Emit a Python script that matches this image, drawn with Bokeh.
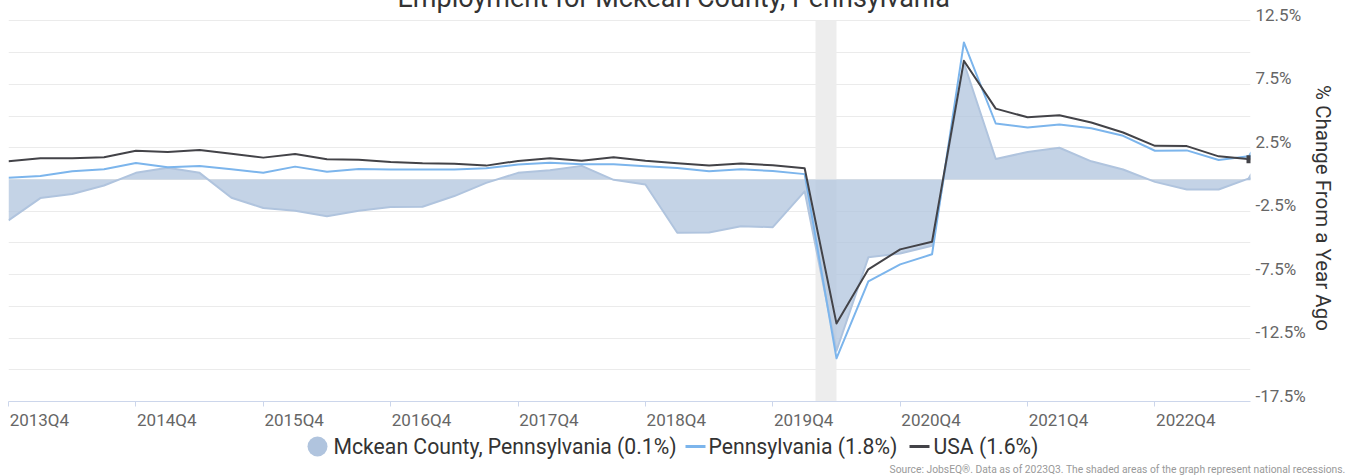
from bokeh.plotting import figure
from bokeh.models import Range1d, FixedTicker, BoxAnnotation, Label, ColumnDataSource
from bokeh.embed import file_html
from bokeh.resources import INLINE

# ---------------- data ----------------
quarters = [
    "2013Q4", "2014Q1", "2014Q2", "2014Q3", "2014Q4", "2015Q1", "2015Q2", "2015Q3",
    "2015Q4", "2016Q1", "2016Q2", "2016Q3", "2016Q4", "2017Q1", "2017Q2", "2017Q3",
    "2017Q4", "2018Q1", "2018Q2", "2018Q3", "2018Q4", "2019Q1", "2019Q2", "2019Q3",
    "2019Q4", "2020Q1", "2020Q2", "2020Q3", "2020Q4", "2021Q1", "2021Q2", "2021Q3",
    "2021Q4", "2022Q1", "2022Q2", "2022Q3", "2022Q4", "2023Q1", "2023Q2", "2023Q3",
]
mckean = [
    -3.22, -1.47, -1.15, -0.48, 0.52, 0.93, 0.52, -1.44,
    -2.25, -2.46, -2.90, -2.46, -2.17, -2.15, -1.31, -0.27,
    0.52, 0.73, 1.07, -0.03, -0.40, -4.20, -4.18, -3.69,
    -3.76, -0.94, -13.5, -6.14, -5.83, -5.23, 9.2, 1.61,
    2.16, 2.50, 1.43, 0.78, -0.19, -0.79, -0.79, 0.12,
]
pennsylvania = [
    0.13, 0.28, 0.65, 0.80, 1.30, 0.96, 1.06, 0.80,
    0.52, 1.01, 0.60, 0.83, 0.78, 0.78, 0.78, 0.88,
    1.17, 1.32, 1.20, 1.20, 1.04, 0.91, 0.65, 0.80,
    0.67, 0.42, -14.1, -8.04, -6.69, -5.90, 10.8, 4.41,
    4.09, 4.33, 4.04, 3.44, 2.26, 2.29, 1.53, 1.84,
]
usa = [
    1.43, 1.67, 1.67, 1.75, 2.27, 2.16, 2.32, 2.03,
    1.72, 2.00, 1.59, 1.56, 1.38, 1.28, 1.24, 1.09,
    1.46, 1.67, 1.48, 1.75, 1.48, 1.28, 1.09, 1.25,
    1.12, 0.88, -11.36, -7.08, -5.51, -4.91, 9.35, 5.58,
    4.90, 5.06, 4.49, 3.70, 2.65, 2.63, 1.82, 1.60,
]
series_names = ["Mckean County, Pennsylvania", "Pennsylvania", "USA"]
y_label_values = [-17.5, -12.5, -7.5, -2.5, 2.5, 7.5, 12.5]
y_grid_values = [-17.5, -15.0, -12.5, -10.0, -7.5, -5.0, -2.5, 0.0, 2.5, 5.0, 7.5, 10.0, 12.5]
recession_start, recession_end = 25.34, 26.0   # in quarter-index units (Feb-Apr 2020)
title_text = "Employment for Mckean County, Pennsylvania"
axis_title = "% Change From a Year Ago"
source_text = "Source: JobsEQ\u00ae. Data as of 2023Q3. The shaded areas of the graph represent national recessions."

# ---------------- style ----------------
FONT = "Roboto"
C_AREA = "#B0C4DE"
C_PA = "#7cb5ec"
C_USA = "#434348"
Y_LABEL_SHIFT = 0.47   # y tick labels sit slightly above their grid line
X_LABEL_SHIFT = 0.97   # x tick labels start at their tick (left aligned look)

x = list(range(len(quarters)))
src = ColumnDataSource(dict(x=x, q=quarters, mckean=mckean, pa=pennsylvania, usa=usa))
last = ColumnDataSource(dict(x=[x[-1]], mckean=[mckean[-1]], pa=[pennsylvania[-1]], usa=[usa[-1]]))

p = figure(width=1348, height=454, output_backend="svg", toolbar_location=None,
           x_range=Range1d(0, len(quarters) - 1), y_range=Range1d(-17.5, 13.0),
           y_axis_location="right",
           min_border_left=8, min_border_right=98, min_border_top=36, min_border_bottom=28)
p.outline_line_color = None
p.background_fill_color = "white"
p.border_fill_color = "white"
p.styles = {"position": "absolute", "top": "-22px", "left": "0px"}

p.title.text = title_text
p.title.align = "left"
p.title.offset = 389
p.title.text_font = FONT
p.title.text_font_size = "27px"
p.title.text_font_style = "normal"
p.title.text_color = "#333333"
p.title.standoff = 2

# recession band
p.add_layout(BoxAnnotation(left=recession_start, right=recession_end, bottom=-17.5, top=12.5,
                           fill_color="#ededed", fill_alpha=1.0, line_color=None, level="underlay"))

# series
p.varea(x="x", y1=0, y2="mckean", source=src, fill_color=C_AREA, fill_alpha=0.75)
p.line("x", "mckean", source=src, line_color=C_AREA, line_width=2, line_join="round")
p.line("x", "pa", source=src, line_color=C_PA, line_width=2, line_join="round")
p.line("x", "usa", source=src, line_color=C_USA, line_width=2, line_join="round")
# end-point markers (half visible at the plot edge)
p.scatter("x", "mckean", source=last, size=8, marker="triangle", fill_color=C_AREA, line_color=None)
p.scatter("x", "pa", source=last, size=8, marker="triangle", fill_color=C_PA, line_color=None)
p.scatter("x", "usa", source=last, size=8, marker="square", fill_color=C_USA, line_color=None)

# x axis: tick marks at each Q4 (minor ticks), labels placed just right of them
xt = [i for i, q in enumerate(quarters) if q.endswith("Q4")]
xl = [i + X_LABEL_SHIFT for i in xt]
xa = p.xaxis[0]
xa.ticker = FixedTicker(ticks=xl, minor_ticks=xt)
xa.major_label_overrides = {t: quarters[i] for t, i in zip(xl, xt)}
xa.axis_line_color = "#ccd6eb"
xa.major_tick_line_color = None
xa.major_tick_out = 0
xa.major_tick_in = 0
xa.minor_tick_line_color = "#ccd6eb"
xa.minor_tick_out = 5
xa.minor_tick_in = 0
xa.major_label_standoff = 3
xa.major_label_text_font = FONT
xa.major_label_text_font_size = "17px"
xa.major_label_text_color = "#666666"

# y axis (right)
ya = p.yaxis[0]
yt = [v + Y_LABEL_SHIFT for v in y_label_values]
ya.ticker = FixedTicker(ticks=yt)
ya.major_label_overrides = {t: f"{v}%" for t, v in zip(yt, y_label_values)}
ya.axis_line_color = None
ya.major_tick_line_color = None
ya.major_tick_out = 0
ya.major_tick_in = 0
ya.minor_tick_line_color = None
ya.major_label_standoff = 5
ya.major_label_text_font = FONT
ya.major_label_text_font_size = "17px"
ya.major_label_text_color = "#666666"
ya.axis_label = axis_title
ya.axis_label_text_font = FONT
ya.axis_label_text_font_size = "20.5px"
ya.axis_label_text_font_style = "normal"
ya.axis_label_text_color = "#333333"
ya.axis_label_standoff = 2

p.xgrid.visible = False
p.ygrid[0].ticker = FixedTicker(ticks=y_grid_values)
p.ygrid.grid_line_color = "#ebebeb"
p.ygrid.grid_line_width = 1

# ---------------- legend + source strip (separate root, full-width frame) ----------------
LH = 43
lg = figure(width=1348, height=LH, output_backend="svg", toolbar_location=None,
            x_range=Range1d(0, 1348), y_range=Range1d(LH, 0), min_border=0,
            x_axis_location=None, y_axis_location=None)
lg.grid.visible = False
lg.outline_line_color = None
lg.background_fill_color = "white"
lg.border_fill_color = "white"
lg.styles = {"position": "absolute", "top": "432px", "left": "0px"}

LY = 14
lg.scatter([317], [LY], size=20, marker="circle", fill_color=C_AREA, line_color=None)
lg.segment(x0=[685], y0=[LY], x1=[705], y1=[LY], line_color=C_PA, line_width=3)
lg.segment(x0=[909], y0=[LY], x1=[929], y1=[LY], line_color=C_USA, line_width=3)
for sx, name, vals in [(333, series_names[0], mckean), (708, series_names[1], pennsylvania),
                       (933, series_names[2], usa)]:
    lg.add_layout(Label(x=sx, y=LY, text=f"{name} ({vals[-1]:.1f}%)", text_align="left",
                        text_baseline="middle", text_font=FONT, text_font_size="21.2px",
                        text_color="#333333"))
lg.add_layout(Label(x=1345, y=37, text=source_text, text_align="right",
                    text_baseline="alphabetic", text_font=FONT, text_font_size="10.3px",
                    text_color="#999999"))

open("out.html", "w").write(file_html([p, lg], INLINE))
